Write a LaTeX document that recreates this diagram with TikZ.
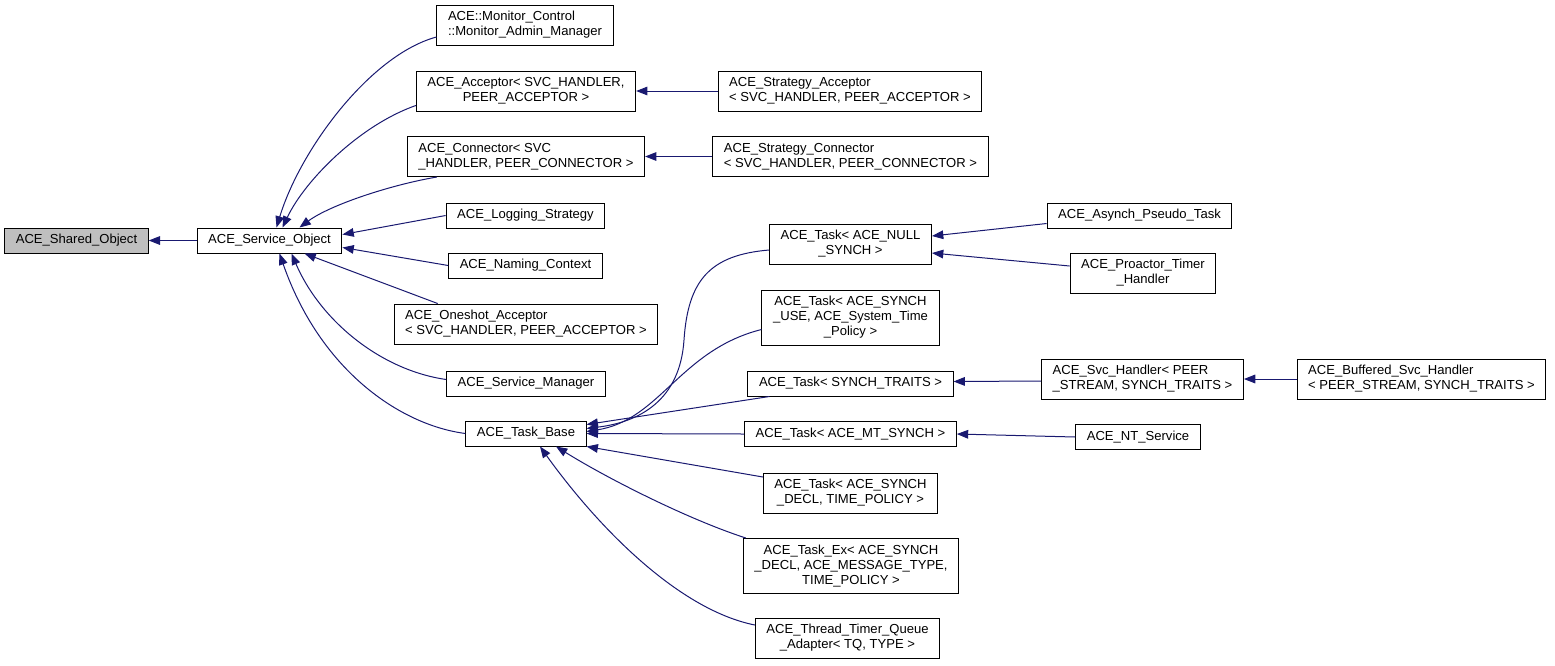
\documentclass[tikz,border=0pt]{standalone}
\usepackage{fontspec}
\setmainfont{Liberation Sans}
\usetikzlibrary{arrows.meta,calc}
\definecolor{edgeblue}{HTML}{191970}
\definecolor{basegray}{HTML}{BFBFBF}
\begin{document}
\begin{tikzpicture}[x=0.75pt,y=-0.75pt,
  cls/.style={draw=black, line width=0.75pt, fill=white, inner xsep=8.3pt, inner ysep=1pt,
    minimum height=18.75pt, font=\fontsize{9.8}{11.25}\selectfont},
  cls2/.style={cls, minimum height=30pt},
  cls3/.style={cls, minimum height=41.25pt},
  inh/.style={draw=edgeblue, line width=0.75pt, {Triangle[length=8.5pt,width=6.5pt]}-}]
\useasboundingbox (0,0) rectangle (1555,665);

\node [cls, fill=basegray] (shared) at (76.5,240.5) {ACE\_Shared\_Object};
\node [cls] (svcobj) at (269.5,240.5) {ACE\_Service\_Object};

\node [cls2, align=left] (monitor) at (525,25) {ACE::Monitor\_Control\\::Monitor\_Admin\_Manager};
\node [cls2, align=center] (acceptor) at (526,91) {ACE\_Acceptor< SVC\_HANDLER,\\PEER\_ACCEPTOR >};
\node [cls2, align=left] (connector) at (526,156.5) {ACE\_Connector< SVC\\\_HANDLER, PEER\_CONNECTOR >};
\node [cls] (logging) at (525.5,215.5) {ACE\_Logging\_Strategy};
\node [cls] (naming) at (525.5,265.5) {ACE\_Naming\_Context};
\node [cls2, align=left] (oneshot) at (526,324) {ACE\_Oneshot\_Acceptor\\< SVC\_HANDLER, PEER\_ACCEPTOR >};
\node [cls] (svcmgr) at (526,383.5) {ACE\_Service\_Manager};
\node [cls] (taskbase) at (526,433.5) {ACE\_Task\_Base};

\node [cls2, align=left] (stracc) at (850,91) {ACE\_Strategy\_Acceptor\\< SVC\_HANDLER, PEER\_ACCEPTOR >};
\node [cls2, align=left] (strcon) at (850.5,156.5) {ACE\_Strategy\_Connector\\< SVC\_HANDLER, PEER\_CONNECTOR >};

\node [cls2, align=center] (tnull) at (850.5,244) {ACE\_Task< ACE\_NULL\\\_SYNCH >};
\node [cls3, align=center] (tuse) at (850.5,317.5) {ACE\_Task< ACE\_SYNCH\\\_USE, ACE\_System\_Time\\\_Policy >};
\node [cls] (ttraits) at (850.5,383.5) {ACE\_Task< SYNCH\_TRAITS >};
\node [cls] (tmt) at (850.5,434) {ACE\_Task< ACE\_MT\_SYNCH >};
\node [cls2, align=center] (tdecl) at (850.5,493) {ACE\_Task< ACE\_SYNCH\\\_DECL, TIME\_POLICY >};
\node [cls3, align=center] (taskex) at (851,566) {ACE\_Task\_Ex< ACE\_SYNCH\\\_DECL, ACE\_MESSAGE\_TYPE,\\TIME\_POLICY >};
\node [cls2, align=center] (ttq) at (847.5,638) {ACE\_Thread\_Timer\_Queue\\\_Adapter< TQ, TYPE >};

\node [cls] (asynch) at (1139.5,215.5) {ACE\_Asynch\_Pseudo\_Task};
\node [cls2, align=center] (proactor) at (1143,273) {ACE\_Proactor\_Timer\\\_Handler};
\node [cls2, align=left] (svch) at (1142.5,379) {ACE\_Svc\_Handler< PEER\\\_STREAM, SYNCH\_TRAITS >};
\node [cls2, align=left] (buffered) at (1421.5,379) {ACE\_Buffered\_Svc\_Handler\\< PEER\_STREAM, SYNCH\_TRAITS >};
\node [cls] (nt) at (1138,437) {ACE\_NT\_Service};

% base of everything
\draw [inh] (shared.east) -- (svcobj.west);

% children of ACE_Service_Object
\draw [inh] ($(svcobj.north)+(7,0)$) .. controls (300,150) and (370,55) .. ($(monitor.west)+(0,12)$);
\draw [inh] ($(svcobj.north)+(13,0)$) .. controls (305,180) and (360,125) .. ($(acceptor.south west)+(0,-6)$);
\draw [inh] ($(svcobj.north)+(30,0)$) .. controls (330,205) and (390,185) .. ($(connector.south west)+(30,0)$);
\draw [inh] ($(svcobj.east)+(0,-6)$) -- (logging.west);
\draw [inh] ($(svcobj.east)+(0,7)$) -- (naming.west);
\draw [inh] ($(svcobj.south)+(35,0)$) -- ($(oneshot.north west)+(44,0)$);
\draw [inh] ($(svcobj.south)+(22,0)$) .. controls (320,320) and (380,370) .. ($(svcmgr.west)+(0,-4)$);
\draw [inh] ($(svcobj.south)+(10,0)$) .. controls (320,370) and (400,425) .. (taskbase.west);

\draw [inh] (acceptor.east) -- (stracc.west);
\draw [inh] (connector.east) -- (strcon.west);

% children of ACE_Task_Base
\draw [inh] ($(taskbase.east)+(0,-5)$) .. controls (640,422) and (680,400) .. (684,340)
  .. controls (688,280) and (710,255) .. ($(tnull.west)+(0,6)$);
\draw [inh] ($(taskbase.east)+(0,-2)$) .. controls (660,420) and (680,350) .. ($(tuse.west)+(0,12)$);
\draw [inh] ($(taskbase.east)+(0,-9)$) -- ($(ttraits.south west)+(22,0)$);
\draw [inh] (taskbase.east) -- (tmt.west);
\draw [inh] (taskbase.south east) -- ($(tdecl.west)+(0,-16)$);
\draw [inh] ($(taskbase.south)+(30,0)$) .. controls (610,480) and (690,520) .. ($(taskex.north west)+(3,0)$);
\draw [inh] ($(taskbase.south)+(14,0)$) .. controls (600,530) and (680,610) .. ($(ttq.west)+(0,-13)$);

\draw [inh] ($(tnull.east)+(0,-8)$) -- ($(asynch.west)+(0,8)$);
\draw [inh] ($(tnull.east)+(0,9)$) -- ($(proactor.west)+(0,-7)$);
\draw [inh] ($(ttraits.east)+(0,-2)$) -- ($(svch.west)+(0,2)$);
\draw [inh] (svch.east) -- (buffered.west);
\draw [inh] (tmt.east) -- (nt.west);
\end{tikzpicture}
\end{document}
